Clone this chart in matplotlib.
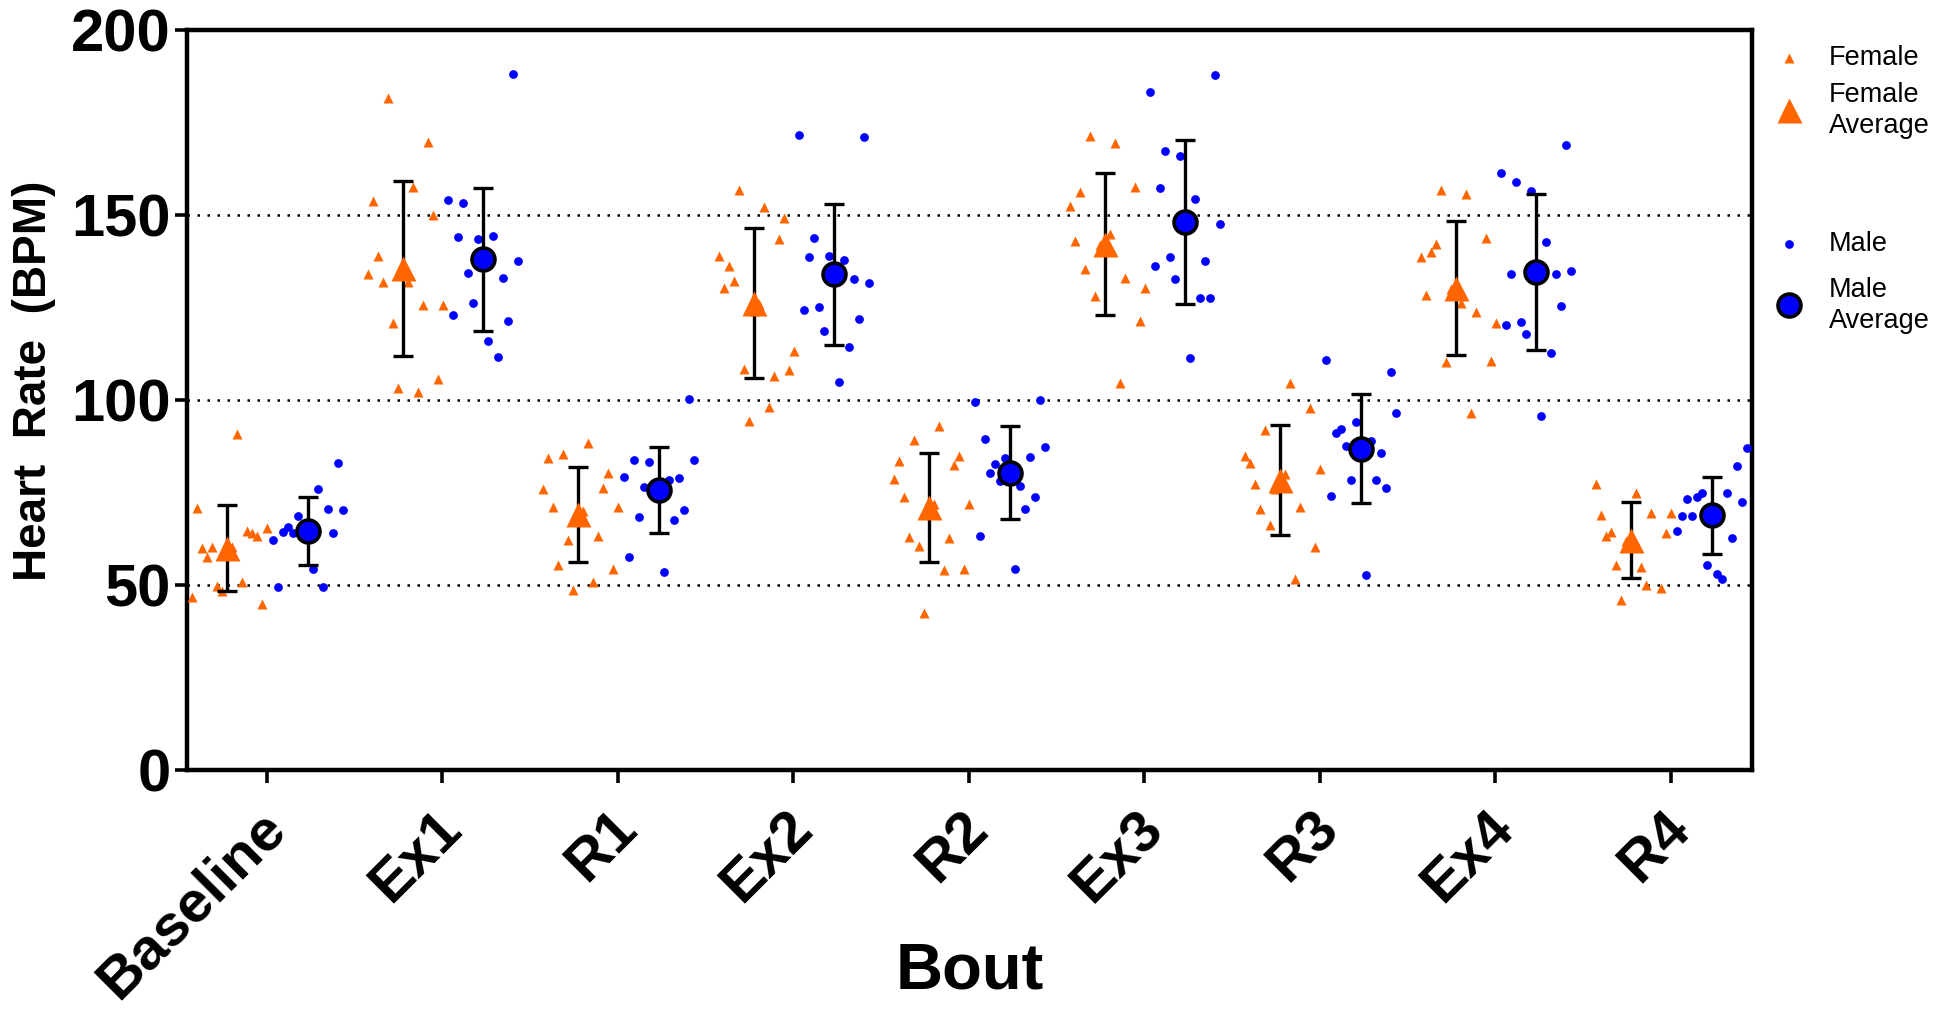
import numpy as np
import matplotlib
matplotlib.use("Agg")
import matplotlib.pyplot as plt
import matplotlib.transforms as mtransforms
from matplotlib.lines import Line2D

plt.rcParams['font.family'] = ['Liberation Sans', 'DejaVu Sans']

nan = np.nan

bouts = ['Baseline', 'Ex1', 'R1', 'Ex2', 'R2', 'Ex3', 'R3', 'Ex4', 'R4']

# individual readings, listed left to right as they sit in each column
female_baseline = [46.7, 70.7, 60.1, 57.7, 60.4, 49.8, 48.4, 59.0, 60.4, 90.7, 50.9, 64.6, 64.0, 63.2, 44.9, 65.3]
female_ex1 = [134.0, 153.8, 138.9, 131.8, 181.7, 120.7, 103.2, 136.0, 131.8, 157.7, 102.2, 125.7, 169.6, 150.0, 105.8, 125.7]
female_r1 = [75.9, 84.4, 71.2, 55.4, 85.3, 62.3, 48.6, 68.0, 70.0, 88.3, 50.9, 63.2, 76.1, 80.4, 54.3, 71.0]
female_ex2 = [139.0, 130.2, 136.2, 132.2, 156.8, 108.3, 94.4, 124.0, 126.0, 152.3, 98.0, 106.6, 143.4, 149.3, 108.1, 113.2]
female_r2 = [78.6, 83.5, 73.7, 62.9, 89.2, 60.5, 42.5, 71.0, 72.0, 93.1, 54.1, 62.6, 82.4, 84.9, 54.2, 71.9]
female_ex3 = [152.5, 143.0, 156.3, 135.3, 171.4, 128.1, 142.0, 141.0, 144.9, 169.5, 104.7, 133.1, nan, 157.5, 121.4, 130.4]
female_r3 = [84.9, 83.1, 77.3, 70.5, 91.9, 66.2, 76.0, 78.0, 80.0, 104.7, 51.7, 71.2, nan, 97.9, 60.2, 81.4]
female_ex4 = [138.6, 128.4, 139.9, 142.3, 156.8, 110.4, 130.0, 129.0, 126.1, 155.6, 96.4, 123.9, nan, 143.9, 110.5, 120.7]
female_r4 = [77.2, 68.9, 63.2, 64.4, 55.4, 45.9, 62.0, 61.0, 75.0, 54.9, 50.0, 69.5, nan, 49.1, 64.0, 69.4]

male_baseline = [62.2, 49.5, 64.2, 65.8, 64.0, 68.7, 65.0, 64.0, 54.3, 75.9, 49.5, 70.5, 64.1, 83.1, 70.3]
male_ex1 = [154.1, 123.0, 144.1, 153.2, 134.2, 126.1, 143.6, 138.0, 116.0, 144.3, 111.5, 133.0, 121.4, 188.0, 137.6]
male_r1 = [79.3, 57.6, 83.8, 68.3, 76.6, 83.2, 76.0, 75.0, 53.5, 78.4, 67.6, 78.8, 70.3, 100.3, 83.8]
male_ex2 = [171.6, 124.3, 138.6, 143.9, 125.2, 118.6, 139.0, 134.0, 105.0, 137.8, 114.2, 132.8, 121.8, 171.0, 131.7]
male_r2 = [99.5, 63.3, 89.4, 80.2, 82.7, 78.2, 84.2, 80.0, 54.3, 76.8, 70.5, 84.7, 73.9, 100.0, 87.2]
male_ex3 = [183.3, 136.3, 157.4, 167.2, 138.7, 132.6, 165.9, 148.0, 111.3, 154.2, 127.7, 137.6, 127.7, 187.8, 147.5]
male_r3 = [110.8, 74.1, 91.2, 92.1, 87.6, 78.4, 94.0, 87.0, 52.7, 89.0, 78.4, 85.8, 76.1, 107.5, 96.4]
male_ex4 = [161.3, 120.2, 134.1, 158.8, 121.0, 117.8, 156.5, 134.0, 95.8, 142.8, 112.6, 134.0, 125.4, 168.8, 135.0]
male_r4 = [64.6, 68.6, 73.2, 68.6, 73.7, 74.8, 55.3, 69.0, 52.9, 51.6, 75.0, 62.7, 82.3, 72.4, 86.9]

female = [female_baseline, female_ex1, female_r1, female_ex2, female_r2,
          female_ex3, female_r3, female_ex4, female_r4]
male = [male_baseline, male_ex1, male_r1, male_ex2, male_r2,
        male_ex3, male_r3, male_ex4, male_r4]

# averages and SD as drawn
female_mean = [60.0, 135.6, 69.1, 126.2, 71.0, 142.2, 78.4, 130.4, 62.2]
female_sd = [11.5, 23.6, 12.9, 20.2, 14.7, 19.2, 14.9, 18.1, 10.2]
male_mean = [64.6, 138.0, 75.6, 134.0, 80.4, 148.2, 86.8, 134.6, 68.8]
male_sd = [9.2, 19.4, 11.6, 19.0, 12.6, 22.2, 14.7, 21.1, 10.5]

grid_levels = [50, 100, 150]
yticks = [0, 50, 100, 150, 200]

orange = '#FF6600'
blue = '#0000FF'

fig = plt.figure(figsize=(19.55, 10.14), dpi=100)
ax = fig.add_axes([0.0957, 0.2406, 0.8005, 0.7298])

xpos = np.arange(len(bouts))
f_shift = np.linspace(-0.425, 0.003, 16)
m_shift = np.linspace(0.033, 0.433, 15)

for lvl in grid_levels:
    ax.axhline(lvl, color='black', lw=1.8, ls=(0, (1, 3)), zorder=1)

for i in range(len(bouts)):
    ax.plot(xpos[i] + f_shift, female[i], ls='none', marker='^', ms=6.5,
            color=orange, mec='none', zorder=3)
    ax.plot(xpos[i] + m_shift, male[i], ls='none', marker='o', ms=6.3,
            color=blue, mec='none', zorder=3)

ax.errorbar(xpos - 0.225, female_mean, yerr=female_sd, fmt='none', ecolor='black',
            elinewidth=2.4, capsize=7.5, capthick=2.4, zorder=4)
ax.errorbar(xpos + 0.233, male_mean, yerr=male_sd, fmt='none', ecolor='black',
            elinewidth=2.4, capsize=7.5, capthick=2.4, zorder=4)
ax.plot(xpos - 0.225, female_mean, ls='none', marker='^', ms=18, color=orange,
        mec='none', zorder=5)
ax.plot(xpos + 0.233, male_mean, ls='none', marker='o', ms=16.5, mfc=blue,
        mec='black', mew=2.6, zorder=5)

ax.set_xlim(-0.455, 8.463)
ax.set_ylim(0, 200)
ax.set_yticks(yticks)
ax.set_xticks(xpos)
ax.set_xticklabels([])

# rotated bout names, nudged left and down below each tick
shift = mtransforms.ScaledTranslation(-0.09, -0.31, fig.dpi_scale_trans)
for i, name in enumerate(bouts):
    ax.text(xpos[i], 0, name, transform=ax.get_xaxis_transform() + shift,
            rotation=45, ha='right', va='top', rotation_mode='anchor',
            fontsize=42, fontweight='bold', clip_on=False)

for lab in ax.get_yticklabels():
    lab.set_fontsize(43)
    lab.set_fontweight('bold')

for sp in ax.spines.values():
    sp.set_linewidth(3.2)
ax.tick_params(axis='both', direction='out', length=9, width=2.6, pad=3)

ax.set_ylabel('Heart  Rate  (BPM)', fontsize=33, fontweight='bold', va='center')
ax.yaxis.set_label_coords(-0.098, 0.526)
ax.set_xlabel('Bout', fontsize=47, fontweight='bold', va='center')
ax.xaxis.set_label_coords(0.5, -0.2725)

# legend on the right
kx = 0.9151
tx = 0.9355
fig.add_artist(Line2D([kx], [0.9428], ls='none', marker='^', ms=6.5, color=orange,
                      mec='none', transform=fig.transFigure))
fig.add_artist(Line2D([kx], [0.8915], ls='none', marker='^', ms=18, color=orange,
                      mec='none', transform=fig.transFigure))
fig.add_artist(Line2D([kx], [0.7594], ls='none', marker='o', ms=6.3, color=blue,
                      mec='none', transform=fig.transFigure))
fig.add_artist(Line2D([kx], [0.6992], ls='none', marker='o', ms=16.5, mfc=blue,
                      mec='black', mew=2.6, transform=fig.transFigure))
fig.text(tx, 0.9428, 'Female', fontsize=19.5, va='center', ha='left')
fig.text(tx, 0.8915, 'Female\nAverage', fontsize=19.5, va='center', ha='left', linespacing=1.25)
fig.text(tx, 0.7594, 'Male', fontsize=19.5, va='center', ha='left')
fig.text(tx, 0.6992, 'Male\nAverage', fontsize=19.5, va='center', ha='left', linespacing=1.25)

fig.savefig('out.png', dpi=100)
